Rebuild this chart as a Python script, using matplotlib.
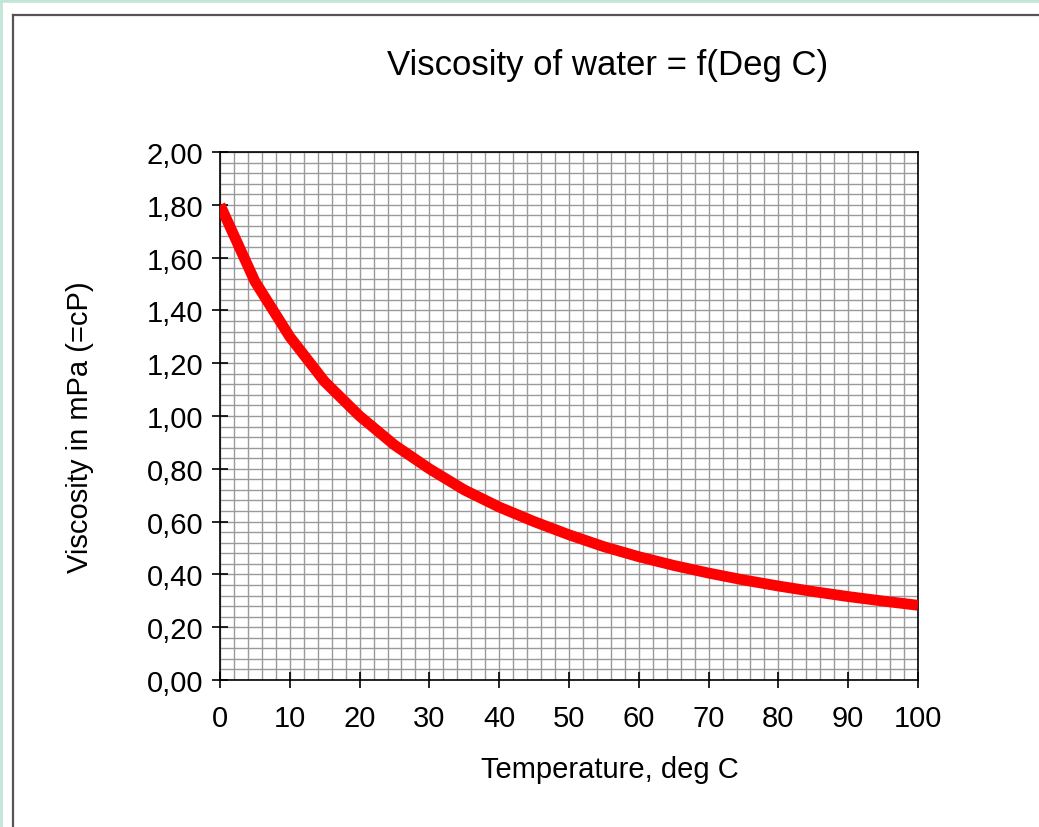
import matplotlib
matplotlib.use("Agg")
import matplotlib.pyplot as plt
from matplotlib.ticker import MultipleLocator, FuncFormatter
from matplotlib.lines import Line2D

temperature = [0, 5, 10, 15, 20, 25, 30, 35, 40, 45, 50, 55, 60, 65, 70, 75, 80, 85, 90, 95, 100]
viscosity = [1.80, 1.51, 1.30, 1.13, 1.00, 0.89, 0.80, 0.72, 0.655, 0.60, 0.55, 0.505, 0.467, 0.434,
             0.405, 0.379, 0.356, 0.335, 0.316, 0.299, 0.283]

title = "Viscosity of water = f(Deg C)"
xlabel = "Temperature, deg C"
ylabel = "Viscosity in mPa (=cP)"

plt.rcParams['font.family'] = ['Liberation Sans', 'DejaVu Sans']

W, H = 1039, 828
fig = plt.figure(figsize=(W / 100, H / 100), dpi=100)
fig.patch.set_facecolor('white')

green = '#c2e5d6'
# light-green band on top and left
fig.add_artist(Line2D([0, 1], [1 - 1.5 / H, 1 - 1.5 / H], transform=fig.transFigure,
                      color=green, linewidth=2.6))
fig.add_artist(Line2D([1.2 / W, 1.2 / W], [0, 1], transform=fig.transFigure,
                      color=green, linewidth=2.0))
# dark frame (top and left edges, running off the page)
fig.add_artist(Line2D([12.5 / W, 1.01], [1 - 15.5 / H, 1 - 15.5 / H], transform=fig.transFigure,
                      color='#555555', linewidth=1.6))
fig.add_artist(Line2D([12.5 / W, 12.5 / W], [-0.01, 1 - 15.5 / H], transform=fig.transFigure,
                      color='#555555', linewidth=1.6))

ax = fig.add_axes([220 / W, 1 - 681 / H, (918 - 220) / W, (681 - 153) / H])
ax.plot(temperature, viscosity, color='#ff0000', linewidth=7.8, solid_capstyle='butt',
        solid_joinstyle='round', zorder=3)

ax.set_xlim(0, 100)
ax.set_ylim(0, 2.0)
ax.xaxis.set_major_locator(MultipleLocator(10))
ax.xaxis.set_minor_locator(MultipleLocator(2))
ax.yaxis.set_major_locator(MultipleLocator(0.2))
ax.yaxis.set_minor_locator(MultipleLocator(0.04))
ax.yaxis.set_major_formatter(FuncFormatter(lambda v, p: f"{v:.2f}".replace('.', ',')))
ax.grid(which='both', color='#9a9a9a', linewidth=1.0)
ax.set_axisbelow(True)
ax.tick_params(which='major', direction='inout', length=12, width=1.2, color='black',
               labelsize=21)
ax.tick_params(axis='x', which='major', pad=11)
ax.tick_params(axis='y', which='major', pad=6)
ax.tick_params(which='minor', length=0)
for s in ax.spines.values():
    s.set_color('black')
    s.set_linewidth(1.2)

fig.text(608 / W, 1 - 66 / H, title, ha='center', va='center', fontsize=25)
fig.text(610 / W, 1 - 770 / H, xlabel, ha='center', va='center', fontsize=21)
fig.text(80 / W, 1 - 427 / H, ylabel, ha='center', va='center', rotation=90, fontsize=21)

fig.savefig("out.png", dpi=100)
